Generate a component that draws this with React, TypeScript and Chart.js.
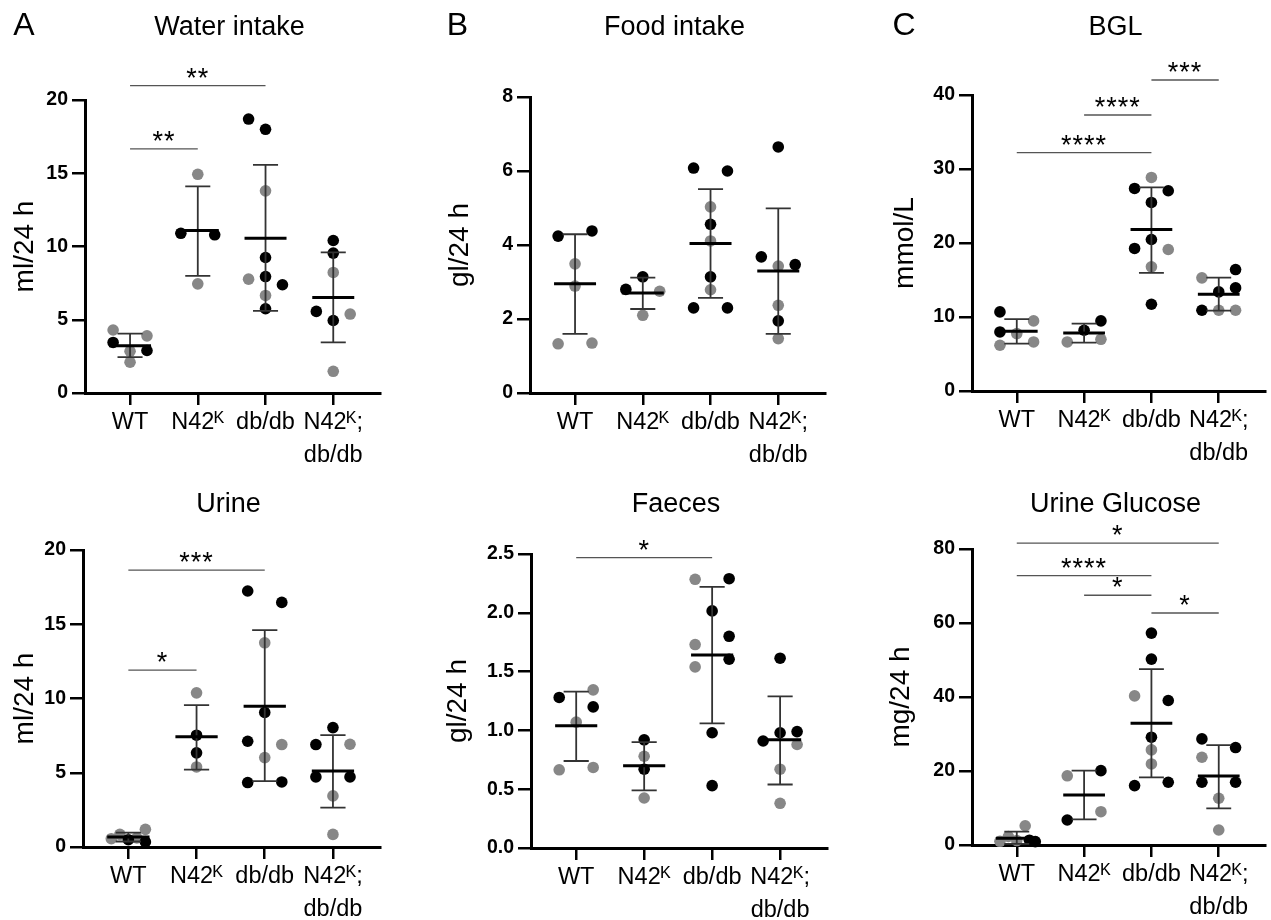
import React, { useEffect, useRef } from "react";
import { Chart, registerables } from "chart.js";

Chart.register(...registerables);

const FONT = "'Liberation Sans', Arial, Helvetica, sans-serif";
Chart.defaults.font.family = FONT;

// ---------- shared categories / tick labels ----------
const categories = ["WT", "N42ᴷ", "db/db", "N42ᴷ;db/db"];
const tickLabels: string[][] = [["WT"], ["N42ᴷ"], ["db/db"], ["N42ᴷ;", "db/db"]];

// ---------- Water intake ----------
const waterVals = [
  [4.3, 3.45, 3.9, 2.85, 2.9, 2.1],
  [14.93, 10.9, 10.8, 7.45],
  [18.7, 18.0, 13.8, 9.25, 7.95, 7.77, 7.39, 6.66, 5.75],
  [10.41, 9.55, 8.23, 5.57, 4.95, 5.39, 1.48],
];
const waterShade = [
  ["g", "b", "g", "g", "b", "g"],
  ["g", "b", "b", "g"],
  ["b", "b", "g", "b", "b", "g", "b", "g", "b"],
  ["b", "b", "g", "b", "b", "g", "g"],
];
const waterSlot = [
  [-1, -1, 1, 0, 1, 0],
  [0, -1, 1, 0],
  [-1, 0, 0, 0, 0, -1, 1, 0, 0],
  [0, 0, 0, -1, 0, 1, 0],
];
const waterMean = [3.23, 11.09, 10.57, 6.52];
const waterHi = [4.05, 14.1, 15.57, 9.6];
const waterLo = [2.45, 8.0, 5.61, 3.45];
const waterSig: [number, number, number, string][] = [
  [0, 1, 16.66, "**"],
  [0, 2, 20.98, "**"],
];

// ---------- Urine ----------
const urineVals = [
  [0.56, 0.85, 0.49, 0.61, 1.19, 0.34],
  [10.38, 7.53, 6.34, 5.39],
  [17.24, 16.47, 13.75, 9.06, 7.12, 6.9, 6.02, 4.34, 4.38],
  [8.04, 6.9, 6.92, 4.72, 4.72, 3.44, 0.85],
];
const urineShade = [
  ["g", "g", "b", "g", "g", "b"],
  ["g", "b", "b", "g"],
  ["b", "b", "g", "b", "b", "g", "g", "b", "b"],
  ["b", "b", "g", "b", "b", "g", "g"],
];
const urineSlot = [
  [-1, -0.5, 0, 0.5, 1, 1],
  [0, 0, 0, 0],
  [-1, 1, 0, 0, -1, 1, 0, -1, 1],
  [0, -1, 1, -1, 1, 0, 0],
];
const urineMean = [0.67, 7.42, 9.48, 5.12];
const urineHi = [0.97, 9.55, 14.6, 7.53];
const urineLo = [0.37, 5.21, 4.43, 2.65];
const urineSig: [number, number, number, string][] = [
  [0, 1, 11.91, "*"],
  [0, 2, 18.65, "***"],
];

// ---------- Food intake ----------
const foodVals = [
  [4.24, 4.38, 3.49, 2.89, 1.33, 1.35],
  [3.14, 2.8, 2.75, 2.1],
  [6.08, 6.0, 5.03, 4.56, 4.11, 3.14, 2.79, 2.3, 2.3],
  [6.65, 3.68, 3.43, 3.47, 2.37, 1.95, 1.47],
];
const foodShade = [
  ["b", "b", "g", "g", "g", "g"],
  ["b", "b", "g", "g"],
  ["b", "b", "g", "b", "g", "b", "g", "b", "b"],
  ["b", "b", "g", "b", "g", "b", "g"],
];
const foodSlot = [
  [-1, 1, 0, 0, -1, 1],
  [0, -1, 1, 0],
  [-1, 1, 0, 0, 0, 0, 0, -1, 1],
  [0, -1, 0, 1, 0, 0, 0],
];
const foodMean = [2.95, 2.7, 4.04, 3.3];
const foodHi = [4.29, 3.12, 5.51, 4.99];
const foodLo = [1.6, 2.27, 2.57, 1.6];
const foodSig: [number, number, number, string][] = [];

// ---------- Faeces ----------
const faecesVals = [
  [1.28, 1.345, 1.2, 1.07, 0.665, 0.685],
  [0.92, 0.78, 0.67, 0.425],
  [2.285, 2.29, 2.016, 1.8, 1.73, 1.605, 1.54, 0.98, 0.53],
  [1.614, 0.91, 0.98, 0.99, 0.88, 0.67, 0.38],
];
const faecesShade = [
  ["b", "g", "b", "g", "g", "g"],
  ["b", "g", "b", "g"],
  ["g", "b", "b", "b", "g", "b", "g", "b", "b"],
  ["b", "b", "b", "b", "g", "g", "g"],
];
const faecesSlot = [
  [-1, 1, 1, 0, -1, 1],
  [0, 0, 0, 0],
  [-1, 1, 0, 1, -1, 1, -1, 0, 0],
  [0, -1, 0, 1, 1, 0, 0],
];
const faecesMean = [1.04, 0.7, 1.642, 0.92];
const faecesHi = [1.33, 0.9, 2.22, 1.29];
const faecesLo = [0.74, 0.49, 1.06, 0.54];
const faecesSig: [number, number, number, string][] = [[0, 2, 2.469, "*"]];

// ---------- BGL ----------
const bglVals = [
  [10.69, 9.47, 7.98, 7.76, 6.18, 6.63],
  [9.47, 8.21, 6.63, 6.99],
  [28.86, 27.37, 27.06, 25.48, 20.47, 19.26, 19.12, 16.78, 11.72],
  [16.41, 15.29, 13.93, 13.39, 10.91, 10.91, 10.91],
];
const bglShade = [
  ["b", "g", "b", "g", "g", "g"],
  ["b", "b", "g", "g"],
  ["g", "b", "b", "b", "b", "b", "g", "g", "b"],
  ["b", "g", "b", "b", "b", "g", "g"],
];
const bglSlot = [
  [-1, 1, -1, 0, -1, 1],
  [1, 0, -1, 1],
  [0, -1, 1, 0, 0, -1, 1, 0, 0],
  [1, -1, 1, 0, -1, 0, 1],
];
const bglMean = [8.07, 7.85, 21.83, 13.08];
const bglHi = [9.7, 9.11, 27.51, 15.33];
const bglLo = [6.4, 6.54, 15.96, 10.85];
const bglSig: [number, number, number, string][] = [
  [0, 2, 32.2, "****"],
  [1, 2, 37.3, "****"],
  [2, 3, 42.03, "***"],
];

// ---------- Urine Glucose ----------
const ugVals = [
  [1.0, 2.3, 1.2, 5.2, 1.3, 0.9],
  [20.1, 18.7, 9.0, 6.76],
  [57.27, 50.24, 40.3, 39.05, 29.13, 25.7, 21.9, 16.05, 16.96],
  [28.68, 26.34, 23.72, 16.96, 16.96, 12.63, 4.06],
];
const ugShade = [
  ["g", "g", "g", "g", "b", "b"],
  ["b", "g", "g", "b"],
  ["b", "b", "g", "b", "b", "g", "g", "b", "b"],
  ["b", "b", "g", "b", "b", "g", "g"],
];
const ugSlot = [
  [-1, -0.5, 0, 0.5, 0.75, 1.1],
  [1, -1, 1, -1],
  [0, 0, -1, 1, 0, 0, 0, -1, 1],
  [-1, 1, -1, -1, 1, 0, 0],
];
const ugMean = [1.8, 13.53, 32.92, 18.67];
const ugHi = [3.6, 20.1, 47.53, 26.97];
const ugLo = [0.3, 6.94, 18.3, 9.92];
const ugSig: [number, number, number, string][] = [
  [0, 3, 81.6, "*"],
  [0, 2, 72.8, "****"],
  [1, 2, 67.5, "*"],
  [2, 3, 62.7, "*"],
];

// ---------- layout / style constants ----------
const XMIN = -0.665;
const XMAX = 3.69;
const SLOT = 0.25;
const CAP = 0.185;
const MEANW = 0.31;
const BLACK = "#000000";
const GREY = "#878787";
const CW = 421;
const CH = 480;
const XH = 80;

interface Panel {
  key: string;
  letter?: string;
  letterX?: number;
  title: string;
  titleBase: number;
  yTitle: string;
  yMax: number;
  yStep: number;
  dec: number;
  vals: number[][];
  shade: string[][];
  slot: number[][];
  mean: number[];
  hi: number[];
  lo: number[];
  sig: [number, number, number, string][];
  left: number;
  top: number;
  pad: { l: number; t: number; r: number; b: number };
  yW: number;
}

const panels: Panel[] = [
  {
    key: "water", letter: "A", letterX: 24, title: "Water intake", titleBase: 35,
    yTitle: "ml/24 h", yMax: 20, yStep: 5, dec: 0,
    vals: waterVals, shade: waterShade, slot: waterSlot, mean: waterMean, hi: waterHi, lo: waterLo, sig: waterSig,
    left: 0, top: 0, pad: { l: 8.2, t: 100, r: 41, b: 7 }, yW: 76.8,
  },
  {
    key: "food", letter: "B", letterX: 32.5, title: "Food intake", titleBase: 35,
    yTitle: "gl/24 h", yMax: 8, yStep: 2, dec: 0,
    vals: foodVals, shade: foodShade, slot: foodSlot, mean: foodMean, hi: foodHi, lo: foodLo, sig: foodSig,
    left: 425, top: 0, pad: { l: 18.2, t: 97, r: 21, b: 7 }, yW: 86.8,
  },
  {
    key: "bgl", letter: "C", letterX: 54, title: "BGL", titleBase: 35,
    yTitle: "mmol/L", yMax: 40, yStep: 10, dec: 0,
    vals: bglVals, shade: bglShade, slot: bglSlot, mean: bglMean, hi: bglHi, lo: bglLo, sig: bglSig,
    left: 850, top: 0, pad: { l: 38.2, t: 95, r: 3, b: 9 }, yW: 83.8,
  },
  {
    key: "urine", title: "Urine", titleBase: 62,
    yTitle: "ml/24 h", yMax: 20, yStep: 5, dec: 0,
    vals: urineVals, shade: urineShade, slot: urineSlot, mean: urineMean, hi: urineHi, lo: urineLo, sig: urineSig,
    left: 0, top: 450, pad: { l: 8.2, t: 100, r: 41, b: 3 }, yW: 74.8,
  },
  {
    key: "faeces", title: "Faeces", titleBase: 62,
    yTitle: "gl/24 h", yMax: 2.5, yStep: 0.5, dec: 1,
    vals: faecesVals, shade: faecesShade, slot: faecesSlot, mean: faecesMean, hi: faecesHi, lo: faecesLo, sig: faecesSig,
    left: 425, top: 450, pad: { l: 16.2, t: 104, r: 19, b: 2 }, yW: 89.8,
  },
  {
    key: "ug", title: "Urine Glucose", titleBase: 62,
    yTitle: "mg/24 h", yMax: 80, yStep: 20, dec: 0,
    vals: ugVals, shade: ugShade, slot: ugSlot, mean: ugMean, hi: ugHi, lo: ugLo, sig: ugSig,
    left: 850, top: 450, pad: { l: 34.2, t: 99, r: 3, b: 5 }, yW: 87.8,
  },
];

function makeDatasets(p: Panel): any[] {
  const black: { x: number; y: number }[] = [];
  const grey: { x: number; y: number }[] = [];
  p.vals.forEach((arr, gi) =>
    arr.forEach((v, k) => {
      const pt = { x: gi + p.slot[gi][k] * SLOT, y: v };
      (p.shade[gi][k] === "b" ? black : grey).push(pt);
    })
  );
  const sd: { x: number; y: number | null }[] = [];
  const mean: { x: number; y: number | null }[] = [];
  p.mean.forEach((m, gi) => {
    sd.push({ x: gi, y: p.lo[gi] }, { x: gi, y: p.hi[gi] }, { x: gi, y: null });
    sd.push({ x: gi - CAP, y: p.hi[gi] }, { x: gi + CAP, y: p.hi[gi] }, { x: gi, y: null });
    sd.push({ x: gi - CAP, y: p.lo[gi] }, { x: gi + CAP, y: p.lo[gi] }, { x: gi, y: null });
    mean.push({ x: gi - MEANW, y: m }, { x: gi + MEANW, y: m }, { x: gi, y: null });
  });
  return [
    {
      type: "line", label: "mean", data: mean, borderColor: BLACK, borderWidth: 3,
      pointRadius: 0, spanGaps: false, clip: false, order: 0, borderCapStyle: "butt",
    },
    {
      type: "line", label: "SD", data: sd, borderColor: "#333333", borderWidth: 1.8,
      pointRadius: 0, spanGaps: false, clip: false, order: 1, borderCapStyle: "butt",
    },
    {
      type: "scatter", label: "black", data: black, backgroundColor: BLACK, borderWidth: 0,
      pointRadius: 5.8, clip: false, order: 2,
    },
    {
      type: "scatter", label: "grey", data: grey, backgroundColor: GREY, borderWidth: 0,
      pointRadius: 5.8, clip: false, order: 3,
    },
  ];
}

function decoPlugin(p: Panel) {
  return {
    id: "deco_" + p.key,
    afterDraw(chart: any) {
      const { ctx, chartArea, scales } = chart;
      const xs = scales.x;
      const ys = scales.y;
      ctx.save();
      ctx.fillStyle = "#000";
      ctx.textBaseline = "alphabetic";
      ctx.textAlign = "center";
      if (p.letter) {
        ctx.font = `32px ${FONT}`;
        ctx.fillText(p.letter, p.letterX, 35);
      }
      ctx.font = `27px ${FONT}`;
      ctx.fillText(p.title, (chartArea.left + chartArea.right) / 2 - 3, p.titleBase);
      ctx.strokeStyle = "#555555";
      ctx.lineWidth = 1.3;
      p.sig.forEach(([a, b, y, t]) => {
        const x1 = xs.getPixelForValue(a);
        const x2 = xs.getPixelForValue(b);
        const yy = ys.getPixelForValue(y);
        ctx.beginPath();
        ctx.moveTo(x1, yy);
        ctx.lineTo(x2, yy);
        ctx.stroke();
        ctx.font = `27px ${FONT}`;
        try {
          (ctx as any).letterSpacing = "1px";
        } catch (e) {}
        ctx.fillText(t, (x1 + x2) / 2, yy + 1);
        try {
          (ctx as any).letterSpacing = "0px";
        } catch (e) {}
      });
      ctx.restore();
    },
  };
}

function PanelChart({ p }: { p: Panel }) {
  const ref = useRef<HTMLCanvasElement>(null);
  useEffect(() => {
    if (!ref.current) return;
    const chart = new Chart(ref.current, {
      type: "scatter",
      data: { datasets: makeDatasets(p) },
      options: {
        responsive: false,
        animation: false,
        events: [],
        layout: { padding: { left: p.pad.l, top: p.pad.t, right: p.pad.r, bottom: p.pad.b } },
        plugins: {
          legend: { display: false },
          tooltip: { enabled: false },
          title: { display: false },
        },
        scales: {
          x: {
            type: "linear",
            min: XMIN,
            max: XMAX,
            afterBuildTicks: (s: any) => {
              s.ticks = categories.map((_c, i) => ({ value: i }));
            },
            afterFit: (s: any) => {
              s.height = XH;
            },
            ticks: {
              callback: (_v: any, i: number) => tickLabels[i],
              font: { size: 23.5, lineHeight: 1.4, family: FONT },
              color: "#000",
              padding: 1.5,
              maxRotation: 0,
              autoSkip: false,
            },
            grid: { drawOnChartArea: false, drawTicks: true, tickLength: 12, color: "#000", lineWidth: 2.5 },
            border: { display: true, color: "#000", width: 3 },
          },
          y: {
            type: "linear",
            min: 0,
            max: p.yMax,
            afterFit: (s: any) => {
              s.width = p.yW;
            },
            ticks: {
              stepSize: p.yStep,
              callback: (v: any) => (p.dec ? Number(v).toFixed(p.dec) : String(v)),
              font: { size: 19.5, weight: "bold", family: FONT },
              color: "#000",
              padding: 4,
            },
            grid: { drawOnChartArea: false, drawTicks: true, tickLength: 13, color: "#000", lineWidth: 2.5 },
            border: { display: true, color: "#000", width: 3 },
            title: { display: true, text: p.yTitle, font: { size: 28, family: FONT }, color: "#000", padding: 0 },
          },
        },
      } as any,
      plugins: [decoPlugin(p)],
    });
    return () => chart.destroy();
  }, [p]);
  return (
    <canvas
      ref={ref}
      width={CW}
      height={CH}
      style={{ position: "absolute", left: p.left, top: p.top, width: CW, height: CH }}
    />
  );
}

export default function App() {
  return (
    <div
      style={{
        position: "absolute",
        left: 0,
        top: 0,
        width: 1271,
        height: 920,
        background: "#ffffff",
        overflow: "hidden",
      }}
    >
      {panels.map((p) => (
        <PanelChart key={p.key} p={p} />
      ))}
    </div>
  );
}
